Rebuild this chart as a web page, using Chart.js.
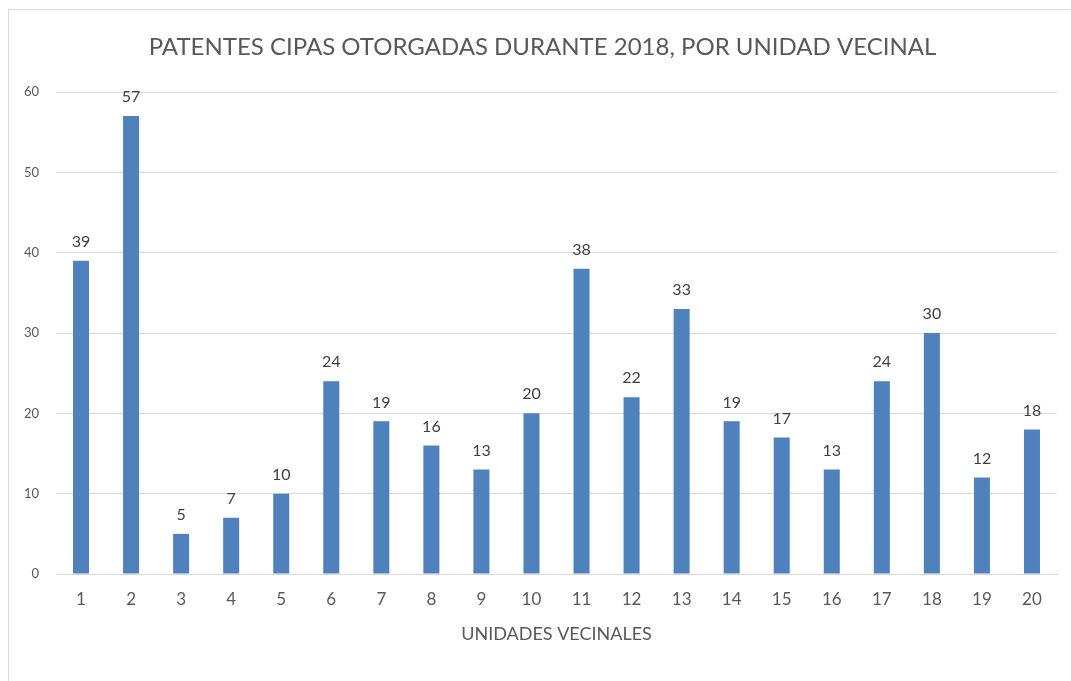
<!DOCTYPE html>
<html>
<head>
<meta charset="utf-8">
<script src="https://cdn.jsdelivr.net/npm/chart.js@4.4.1/dist/chart.umd.min.js"></script>
<style>
  html, body { margin: 0; padding: 0; background: #fff; overflow: hidden; }
  #wrap { position: relative; width: 1071px; height: 681px; }
  #frame { position: absolute; left: 8px; top: 9px; right: -2px; bottom: -2px;
           border-top: 1px solid #d9d9d9; border-left: 1px solid #d9d9d9; pointer-events: none; }
</style>
</head>
<body>
<div id="wrap">
  <canvas id="chart" width="1071" height="681"></canvas>
  <div id="frame"></div>
</div>
<script>
const chartTitle = 'PATENTES CIPAS OTORGADAS DURANTE 2018, POR UNIDAD VECINAL';
const xTitle = 'UNIDADES VECINALES';
const unidades = ['1','2','3','4','5','6','7','8','9','10','11','12','13','14','15','16','17','18','19','20'];
const patentes = [39, 57, 5, 7, 10, 24, 19, 16, 13, 20, 38, 22, 33, 19, 17, 13, 24, 30, 12, 18];

const FONT = 'Lato, "Open Sans", sans-serif';
const TEXT = '#595959';

// value labels above each bar
const barLabels = {
  id: 'barLabels',
  afterDatasetsDraw(chart) {
    const ctx = chart.ctx;
    const meta = chart.getDatasetMeta(0);
    ctx.save();
    ctx.font = '16px ' + FONT;
    ctx.fillStyle = '#404040';
    ctx.textAlign = 'center';
    ctx.textBaseline = 'bottom';
    meta.data.forEach((bar, i) => {
      ctx.fillText(String(patentes[i]), bar.x, bar.y - 11);
    });
    ctx.restore();
  }
};

// title centred on the whole frame, not just the plot
const frameTitle = {
  id: 'frameTitle',
  afterDraw(chart) {
    const ctx = chart.ctx;
    ctx.save();
    ctx.font = '24px ' + FONT;
    ctx.fillStyle = TEXT;
    ctx.textAlign = 'center';
    ctx.textBaseline = 'middle';
    ctx.fillText(chartTitle, (chart.width + 14) / 2, 47);
    ctx.restore();
  }
};

new Chart(document.getElementById('chart').getContext('2d'), {
  type: 'bar',
  data: {
    labels: unidades,
    datasets: [{
      data: patentes,
      backgroundColor: '#4f81bd',
      borderWidth: 0,
      categoryPercentage: 1,
      barPercentage: 0.32
    }]
  },
  options: {
    responsive: false,
    animation: false,
    layout: { padding: { left: 0, right: 14, top: 92, bottom: 0 } },
    plugins: {
      legend: { display: false },
      tooltip: { enabled: false },
      title: { display: false }
    },
    scales: {
      y: {
        min: 0,
        max: 60,
        ticks: { stepSize: 10, color: TEXT, font: { family: FONT, size: 13 }, padding: 17 },
        grid: { color: '#d9d9d9', drawTicks: false },
        border: { display: false },
        afterFit(scale) { scale.width = 56; }
      },
      x: {
        ticks: { color: TEXT, font: { family: FONT, size: 17 }, padding: 15 },
        grid: { display: false, drawTicks: false },
        border: { color: '#d9d9d9', width: 1 },
        title: {
          display: true,
          text: xTitle,
          color: TEXT,
          font: { family: FONT, size: 18 },
          padding: { top: 0, bottom: 36 }
        },
        afterFit(scale) { scale.height = 107; }
      }
    }
  },
  plugins: [barLabels, frameTitle]
});
</script>
</body>
</html>
